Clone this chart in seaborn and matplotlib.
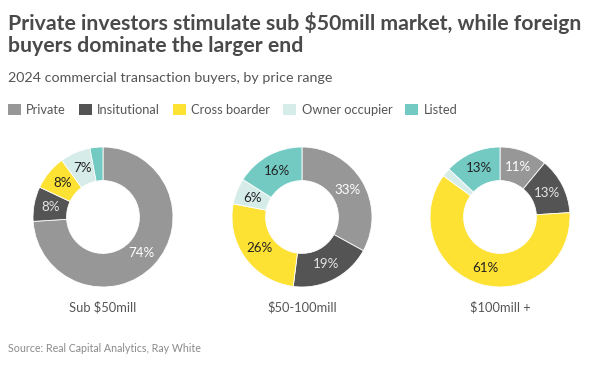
import matplotlib
matplotlib.use("Agg")
import matplotlib.pyplot as plt
import seaborn as sns
from matplotlib.patches import Patch

sns.set_theme(style="white")
plt.rcParams['font.family'] = ['Lato', 'DejaVu Sans']

# ---- data ----
segments = ["Private", "Insitutional", "Cross boarder", "Owner occupier", "Listed"]
ranges = ["Sub $50mill", "$50-100mill", "$100mill +"]
sub50 = [74, 8, 8, 7, 3]
mid50_100 = [33, 19, 26, 6, 16]
over100 = [11, 13, 61, 2, 13]
colors = ["#979797", "#545454", "#FDE133", "#D5ECE8", "#72CAC3"]
label_colors = ["white", "#e6e6e6", "#222222", "#222222", "#222222"]
min_label = 5

title = "Private investors stimulate sub $50mill market, while foreign\nbuyers dominate the larger end"
subtitle = "2024 commercial transaction buyers, by price range"
source = "Source: Real Capital Analytics, Ray White"

W, H = 604, 365
fig = plt.figure(figsize=(W / 100, H / 100), dpi=100)
fig.patch.set_facecolor("white")

centers_x = [103, 302, 500]
cy = 217
R = 70

for vals, name, cx in zip([sub50, mid50_100, over100], ranges, centers_x):
    ax = fig.add_axes([(cx - R) / W, 1 - (cy + R) / H, 2 * R / W, 2 * R / H])
    wedges, texts = ax.pie(
        vals, colors=colors, startangle=90, counterclock=False, radius=1,
        wedgeprops=dict(width=0.48, edgecolor="white", linewidth=0.6),
        labels=[f"{v}%" if v >= min_label else "" for v in vals],
        labeldistance=0.755,
        textprops=dict(fontsize=9.6, ha="center", va="center"),
    )
    for t, c in zip(texts, label_colors):
        t.set_color(c)
    ax.set_xlim(-1, 1)
    ax.set_ylim(-1, 1)
    ax.set_aspect("equal")
    ax.axis("off")
    fig.text(cx / W, 1 - 307 / H, name, ha="center", va="center",
             fontsize=9.3, color="#555555")

fig.text(8 / W, 1 - 12 / H, title, ha="left", va="top", fontsize=15.3,
         fontweight="bold", color="#4a4a4a", linespacing=1.15)
fig.text(8 / W, 1 - 78 / H, subtitle, ha="left", va="center", fontsize=10.3,
         color="#555555")

handles = [Patch(facecolor=c, edgecolor="none") for c in colors]
leg = fig.legend(handles, segments, loc="center left", bbox_to_anchor=(8 / W, 1 - 110 / H),
                 ncol=5, frameon=False, fontsize=9.3, handlelength=0.97, handleheight=0.97,
                 handletextpad=0.45, columnspacing=1.0, borderaxespad=0, borderpad=0)
for t in leg.get_texts():
    t.set_color("#555555")

fig.text(8 / W, 1 - 349 / H, source, ha="left", va="center", fontsize=7.7,
         color="#8a8a8a")

fig.savefig("out.png", dpi=100, facecolor="white")
